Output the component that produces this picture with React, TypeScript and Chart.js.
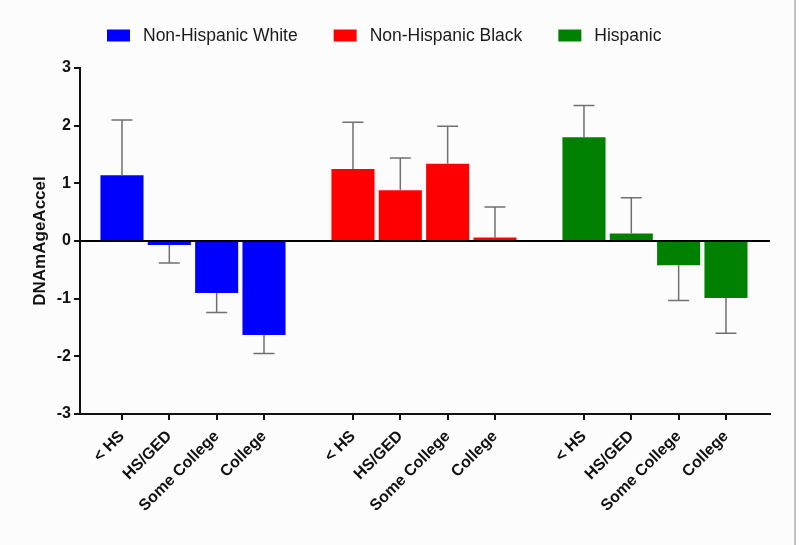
import React, { useEffect, useRef } from 'react';
import { Chart, registerables } from 'chart.js';

Chart.register(...registerables);

const categories = ['< HS', 'HS/GED', 'Some College', 'College'];
const groupNames = ['Non-Hispanic White', 'Non-Hispanic Black', 'Hispanic'];
const whiteValues = [1.14, -0.07, -0.9, -1.63];
const whiteErrors = [0.96, 0.31, 0.34, 0.32];
const blackValues = [1.25, 0.88, 1.34, 0.06];
const blackErrors = [0.81, 0.56, 0.65, 0.53];
const hispanicValues = [1.8, 0.13, -0.42, -0.99];
const hispanicErrors = [0.55, 0.62, 0.61, 0.61];
const yTicks = [-3, -2, -1, 0, 1, 2, 3];
const groupColors = ['#0000ff', '#ff0000', '#008000'];

const GROUP_STRIDE = 4.88;
const FONT = 'Arial, "Liberation Sans", sans-serif';

const backgroundPlugin = {
  id: 'bg',
  beforeDraw(chart: any) {
    const { ctx, width, height } = chart;
    ctx.save();
    ctx.fillStyle = '#fcfcfc';
    ctx.fillRect(0, 0, width, height);
    ctx.fillStyle = '#c4c4c4';
    ctx.fillRect(width - 6, 0, 2, height);
    ctx.fillStyle = '#ffffff';
    ctx.fillRect(width - 4, 0, 4, height);
    ctx.restore();
  },
};

const errorBarPlugin = {
  id: 'errorBars',
  afterDatasetsDraw(chart: any) {
    const { ctx } = chart;
    const y = chart.scales.y;
    ctx.save();
    ctx.strokeStyle = '#707070';
    ctx.lineWidth = 1.5;
    chart.data.datasets.forEach((ds: any, di: number) => {
      const meta = chart.getDatasetMeta(di);
      meta.data.forEach((bar: any, i: number) => {
        const v = ds.data[i].y;
        const e = ds.errors[i];
        const end = v >= 0 ? v + e : v - e;
        const px = bar.x;
        const p0 = y.getPixelForValue(v);
        const p1 = y.getPixelForValue(end);
        ctx.beginPath();
        ctx.moveTo(px, p0);
        ctx.lineTo(px, p1);
        ctx.moveTo(px - 10.5, p1);
        ctx.lineTo(px + 10.5, p1);
        ctx.stroke();
      });
    });
    ctx.restore();
  },
};

const legendPlugin = {
  id: 'topLegend',
  afterDraw(chart: any) {
    const { ctx } = chart;
    ctx.save();
    ctx.font = `17.5px ${FONT}`;
    const boxW = 23;
    const boxH = 12;
    const textGap = 13;
    const itemGap = 36;
    const items = chart.data.datasets.map((ds: any) => ({
      label: ds.label,
      color: ds.backgroundColor,
      w: boxW + textGap + ctx.measureText(ds.label).width,
    }));
    let x = 107;
    const yc = 35.5;
    items.forEach((it: any) => {
      ctx.fillStyle = it.color;
      ctx.fillRect(x, yc - boxH / 2, boxW, boxH);
      ctx.fillStyle = '#1a1a1a';
      ctx.textBaseline = 'middle';
      ctx.textAlign = 'left';
      ctx.fillText(it.label, x + boxW + textGap, yc + 1);
      x += it.w + itemGap;
    });
    ctx.restore();
  },
};

export default function App() {
  const canvasRef = useRef<HTMLCanvasElement>(null);

  useEffect(() => {
    document.body.style.margin = '0';
    const canvas = canvasRef.current;
    if (!canvas) return;

    const seriesValues = [whiteValues, blackValues, hispanicValues];
    const seriesErrors = [whiteErrors, blackErrors, hispanicErrors];
    const positions: number[] = [];
    const labelsByIndex: string[] = [];
    groupNames.forEach((_, g) => {
      categories.forEach((c, i) => {
        positions.push(g * GROUP_STRIDE + i);
        labelsByIndex.push(c);
      });
    });

    const datasets = groupNames.map((name, g) => ({
      label: name,
      data: seriesValues[g].map((v, i) => ({ x: g * GROUP_STRIDE + i, y: v })),
      errors: seriesErrors[g],
      backgroundColor: groupColors[g],
      borderWidth: 0,
      grouped: false,
      categoryPercentage: 1,
      barPercentage: 0.91,
    }));

    const chart = new Chart(canvas, {
      type: 'bar',
      data: { datasets } as any,
      options: {
        animation: false,
        responsive: false,
        layout: { padding: { top: 68, right: 30, left: 0, bottom: 0 } },
        plugins: {
          legend: { display: false },
          tooltip: { enabled: false },
        },
        scales: {
          x: {
            type: 'linear',
            min: -0.887,
            max: 13.69,
            offset: false,
            afterBuildTicks: (scale: any) => {
              scale.ticks = positions.map((p) => ({ value: p }));
            },
            afterFit: (scale: any) => {
              scale.height = 131;
            },
            grid: {
              offset: false,
              drawOnChartArea: false,
              color: 'transparent',
              tickColor: '#111',
              tickLength: 6,
              lineWidth: 2,
            },
            border: { color: '#111', width: 2 },
            ticks: {
              autoSkip: false,
              minRotation: 45,
              maxRotation: 45,
              padding: 7,
              color: '#111',
              font: { family: FONT, size: 16, weight: 'bold' },
              callback: (_v: any, i: number) => labelsByIndex[i],
            },
          },
          y: {
            min: -3,
            max: 3,
            afterBuildTicks: (scale: any) => {
              scale.ticks = yTicks.map((v) => ({ value: v }));
            },
            afterFit: (scale: any) => {
              scale.width = 80;
            },
            grid: {
              color: (c: any) => (c.tick && c.tick.value === 0 ? '#000' : 'transparent'),
              tickColor: '#111',
              tickLength: 6,
              lineWidth: 2,
            },
            border: { color: '#111', width: 2 },
            ticks: {
              padding: 3,
              color: '#111',
              font: { family: FONT, size: 16, weight: 'bold' },
            },
            title: {
              display: true,
              text: 'DNAmAgeAccel',
              color: '#111',
              font: { family: FONT, size: 17, weight: 'bold' },
              padding: { top: 30, bottom: 0 },
            },
          },
        },
      } as any,
      plugins: [backgroundPlugin, errorBarPlugin, legendPlugin],
    });

    return () => chart.destroy();
  }, []);

  return (
    <div style={{ width: 800, height: 545 }}>
      <canvas ref={canvasRef} width={800} height={545} style={{ display: 'block' }} />
    </div>
  );
}
